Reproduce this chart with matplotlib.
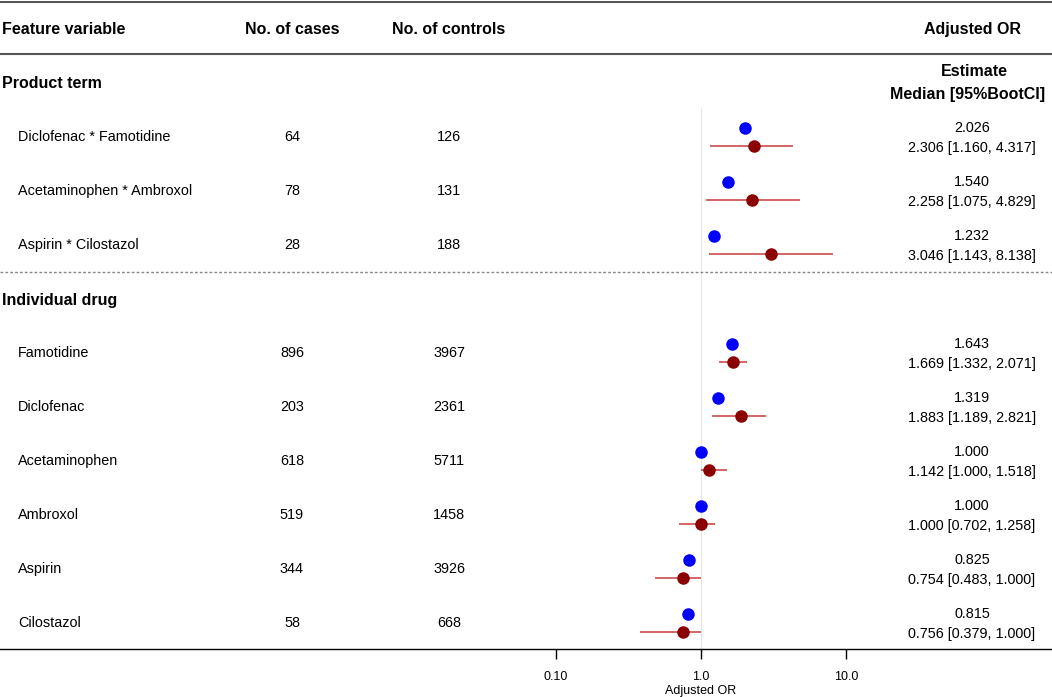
import numpy as np
import matplotlib
matplotlib.use("Agg")
import matplotlib.pyplot as plt

plt.rcParams['font.family'] = ['Liberation Sans', 'DejaVu Sans']

# ---- data ----
product_names = ["Diclofenac * Famotidine", "Acetaminophen * Ambroxol", "Aspirin * Cilostazol"]
product_cases = [64, 78, 28]
product_controls = [126, 131, 188]
product_or = [2.026, 1.540, 1.232]
product_med = [2.306, 2.258, 3.046]
product_lo = [1.160, 1.075, 1.143]
product_hi = [4.317, 4.829, 8.138]

drug_names = ["Famotidine", "Diclofenac", "Acetaminophen", "Ambroxol", "Aspirin", "Cilostazol"]
drug_cases = [896, 203, 618, 519, 344, 58]
drug_controls = [3967, 2361, 5711, 1458, 3926, 668]
drug_or = [1.643, 1.319, 1.000, 1.000, 0.825, 0.815]
drug_med = [1.669, 1.883, 1.142, 1.000, 0.754, 0.756]
drug_lo = [1.332, 1.189, 1.000, 0.702, 0.483, 0.379]
drug_hi = [2.071, 2.821, 1.518, 1.258, 1.000, 1.000]

x_ticks = [0.1, 1.0, 10.0]
x_ticklabels = ["0.10", "1.0", "10.0"]

# ---- layout ----
W, H = 1052, 697
fig = plt.figure(figsize=(W / 100, H / 100), dpi=100)
ax = fig.add_axes([0, 48 / H, 1, 648 / H])
ax.set_xscale('log')
ax.set_xlim(10 ** (-701 / 145), 10 ** ((W - 701) / 145))
ax.set_ylim(11.48, -0.52)
for s in ['top', 'left', 'right']:
    ax.spines[s].set_visible(False)
ax.spines['bottom'].set_linewidth(1.0)
ax.set_yticks([])
ax.set_xticks(x_ticks)
ax.set_xticklabels(x_ticklabels, fontsize=9)
ax.xaxis.set_minor_locator(matplotlib.ticker.NullLocator())
ax.tick_params(axis='x', length=7, width=1, pad=9)
ax.set_xlabel("Adjusted OR", fontsize=9, labelpad=1)
ax.xaxis.set_label_coords(701 / W, -0.055)

tr = ax.get_yaxis_transform()
def fx(px):
    return px / W

# header lines
ax.axhline(-0.5, color='#555555', lw=1.5)
ax.axhline(0.46, color='#555555', lw=1.5)
ax.axhline(4.5, color='#888888', lw=1.0, linestyle=(0, (2, 1.5)))
ax.vlines(1.0, 1.46, 11.48, color='#e6e6e6', lw=0.8, zorder=0)

fs = 10.4
fb = 11.5
rc = 972
ax.text(fx(2), 0, "Feature variable", transform=tr, fontsize=fb, fontweight='bold', va='center')
ax.text(fx(292), 0, "No. of cases", transform=tr, fontsize=fb, fontweight='bold', va='center', ha='center')
ax.text(fx(449), 0, "No. of controls", transform=tr, fontsize=fb, fontweight='bold', va='center', ha='center')
ax.text(fx(973), 0, "Adjusted OR", transform=tr, fontsize=fb, fontweight='bold', va='center', ha='center')
ax.text(fx(2), 1, "Product term", transform=tr, fontsize=fb, fontweight='bold', va='center')
ax.text(fx(974), 0.79, "Estimate", transform=tr, fontsize=fb, fontweight='bold', va='center', ha='center')
ax.text(fx(968), 1.22, "Median [95%BootCI]", transform=tr, fontsize=fb, fontweight='bold', va='center', ha='center')
ax.text(fx(2), 5.03, "Individual drug", transform=tr, fontsize=fb, fontweight='bold', va='center')

def draw_rows(names, cases, controls, ors, meds, los, his, start):
    for i in range(len(names)):
        y = start + i
        ax.text(fx(18), y, names[i], transform=tr, fontsize=fs, va='center')
        ax.text(fx(292), y, str(cases[i]), transform=tr, fontsize=fs, va='center', ha='center')
        ax.text(fx(449), y, str(controls[i]), transform=tr, fontsize=fs, va='center', ha='center')
        ax.hlines(y + 0.17, los[i], his[i], color='#c83c3c', lw=1.1, zorder=2)
        ax.plot(meds[i], y + 0.17, 'o', color='#8b0000', ms=8, zorder=3)
        ax.plot(ors[i], y - 0.17, 'o', color='#0000ff', ms=8, zorder=3)
        ax.text(fx(rc), y - 0.17, f"{ors[i]:.3f}", transform=tr, fontsize=fs, va='center', ha='center')
        ax.text(fx(rc), y + 0.2, f"{meds[i]:.3f} [{los[i]:.3f}, {his[i]:.3f}]",
                transform=tr, fontsize=fs, va='center', ha='center')

draw_rows(product_names, product_cases, product_controls, product_or,
          product_med, product_lo, product_hi, 2)
draw_rows(drug_names, drug_cases, drug_controls, drug_or,
          drug_med, drug_lo, drug_hi, 6)

fig.savefig("out.png", dpi=100)
